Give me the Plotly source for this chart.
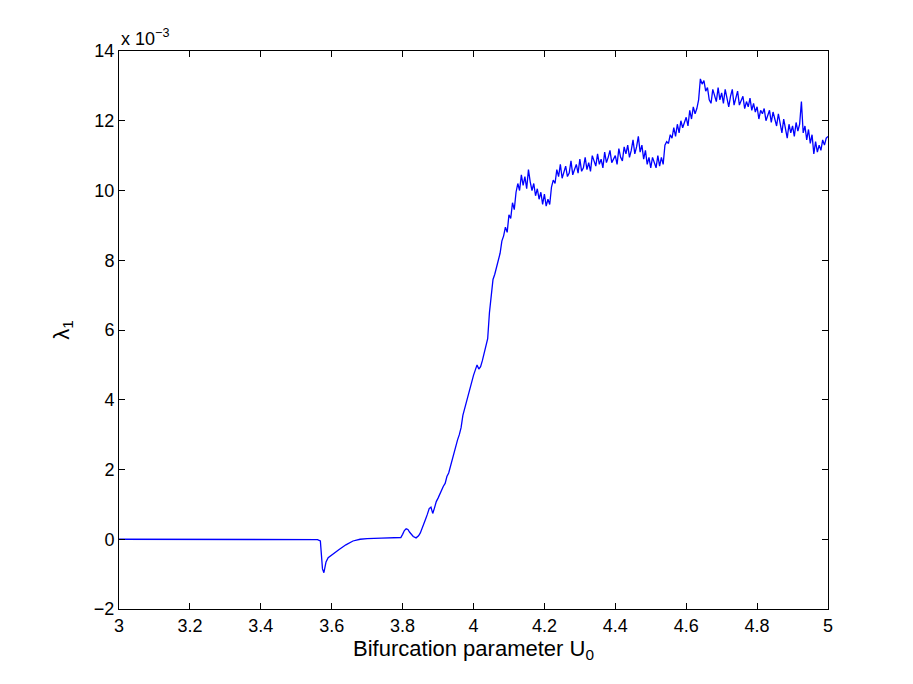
import numpy as np
import plotly.graph_objects as go

# smooth part of the curve (lambda_1 in units of 1e-3)
x_smooth = [3.0, 3.1, 3.2, 3.3, 3.4, 3.5, 3.56, 3.568, 3.571, 3.574, 3.578,
            3.584, 3.59, 3.60, 3.62, 3.64, 3.66, 3.68, 3.70, 3.74, 3.78,
            3.795, 3.80, 3.805, 3.81, 3.815, 3.82, 3.83, 3.838, 3.845]
y_smooth = [0.0, 0.0, 0.0, 0.0, -0.01, 0.0, -0.01, -0.05, -0.45, -0.85, -0.96,
            -0.65, -0.53, -0.45, -0.3, -0.16, -0.05, 0.0, 0.02, 0.03, 0.03,
            0.05, 0.14, 0.25, 0.3, 0.28, 0.2, 0.08, 0.04, 0.1]

# noisy part, sampled every 0.005 from 3.85 to 5.0
x_noisy = np.round(np.arange(3.85, 5.0001, 0.005), 3)
y_noisy = [
    0.18, 0.3, 0.42, 0.58, 0.72, 0.88, 0.92, 0.74, 0.9, 1.08,
    1.18, 1.3, 1.38, 1.52, 1.6, 1.8, 1.9, 2.1, 2.3, 2.48,
    2.62, 2.85, 3.0, 3.2, 3.55, 3.75, 3.9, 4.15, 4.3, 4.55,
    4.7, 4.85, 5.0, 4.88, 4.95, 5.12, 5.35, 5.6, 5.75, 6.5,
    7.1, 7.45, 7.6, 7.8, 7.95, 8.2, 8.55, 8.7, 8.95, 8.8,
    9.3, 9.2, 9.65, 9.45, 9.95, 10.2, 10.0, 10.45, 10.15, 10.4,
    10.05, 10.6, 10.25, 10.0, 10.2, 9.85, 10.05, 9.75, 9.95, 9.6,
    9.9, 9.55, 9.75, 9.6, 10.1, 10.3, 10.2, 10.6, 10.4, 10.75,
    10.35, 10.55, 10.7, 10.4, 10.5, 10.85, 10.45, 10.6, 10.75, 10.5,
    10.9, 10.55, 10.65, 10.95, 10.6, 10.8, 10.55, 11.0, 10.85, 10.7,
    11.05, 10.75, 10.9, 10.65, 11.1, 10.8, 10.95, 11.15, 10.8, 10.9,
    11.0, 10.75, 11.2, 10.95, 10.85, 11.25, 11.05, 11.3, 10.95, 11.15,
    11.45, 11.05, 11.25, 11.55, 11.1, 11.3, 10.9, 11.15, 10.75, 10.95,
    10.65, 10.95, 10.8, 10.65, 11.0, 10.7, 10.95, 10.75, 11.3, 11.4,
    11.35, 11.6, 11.5, 11.8, 11.55, 11.9, 11.65, 12.0, 11.8, 11.95,
    12.1, 11.85, 12.3, 12.05, 12.4, 12.2, 12.35, 12.6, 13.2, 13.05,
    13.15, 12.85, 12.95, 12.6, 12.5, 12.9, 12.75, 12.55, 12.95, 12.6,
    12.8, 12.5, 12.9, 12.6, 12.4, 12.7, 12.9, 12.45, 12.65, 12.85,
    12.45, 12.6, 12.7, 12.35, 12.55, 12.4, 12.65, 12.3, 12.5, 12.25,
    12.4, 12.05, 12.3, 12.2, 12.35, 12.0, 12.15, 12.3, 11.95, 12.25,
    12.05, 11.85, 12.2, 11.95, 11.65, 12.05, 11.8, 11.5, 11.9, 11.65,
    11.85, 11.55, 11.95, 11.7, 11.9, 12.55, 11.65, 11.85, 11.45, 11.75,
    11.35, 11.6, 11.05, 11.4, 11.1, 11.3, 11.15, 11.45, 11.3, 11.5, 11.55,
]

x_ticks = [3.0, 3.2, 3.4, 3.6, 3.8, 4.0, 4.2, 4.4, 4.6, 4.8, 5.0]
x_labels = ["3", "3.2", "3.4", "3.6", "3.8", "4", "4.2", "4.4", "4.6", "4.8", "5"]
y_ticks = [-2, 0, 2, 4, 6, 8, 10, 12, 14]
y_labels = ["\u22122", "0", "2", "4", "6", "8", "10", "12", "14"]

x_all = list(x_smooth) + list(x_noisy)
y_all = list(y_smooth) + list(y_noisy)

fig = go.Figure()
fig.add_trace(go.Scatter(
    x=x_all,
    y=y_all,
    mode="lines",
    line=dict(color="#0000ff", width=1.3),
    showlegend=False,
))

font = dict(family="Liberation Sans, Arial, sans-serif", size=18, color="black")

# page body has an 8px margin, so the figure is offset by 8px
fig.update_layout(
    width=905,
    height=676,
    margin=dict(l=111, r=85, t=43, b=75),
    paper_bgcolor="white",
    plot_bgcolor="white",
    font=font,
    xaxis={
        "range": [3, 5],
        "tickvals": x_ticks,
        "ticktext": x_labels,
        "ticks": "inside",
        "ticklen": 6,
        "tickcolor": "black",
        "showline": True,
        "linecolor": "black",
        "linewidth": 1,
        "mirror": "ticks",
        "showgrid": False,
        "zeroline": False,
        "title": {"text": "Bifurcation parameter U<sub>0</sub>", "standoff": 2},
    },
    yaxis={
        "range": [-2, 14],
        "tickvals": y_ticks,
        "ticktext": y_labels,
        "ticks": "inside",
        "ticklen": 6,
        "tickcolor": "black",
        "showline": True,
        "linecolor": "black",
        "linewidth": 1,
        "mirror": "ticks",
        "showgrid": False,
        "zeroline": False,
        "title": {"text": "\u03bb<sub>1</sub>", "standoff": 18},
    },
    annotations=[
        dict(
            x=0, y=1, xref="paper", yref="paper",
            xanchor="left", yanchor="bottom",
            text="x 10<sup>\u22123</sup>",
            showarrow=False,
            yshift=0,
            font=font,
        )
    ],
)

fig.write_html("out.html")
